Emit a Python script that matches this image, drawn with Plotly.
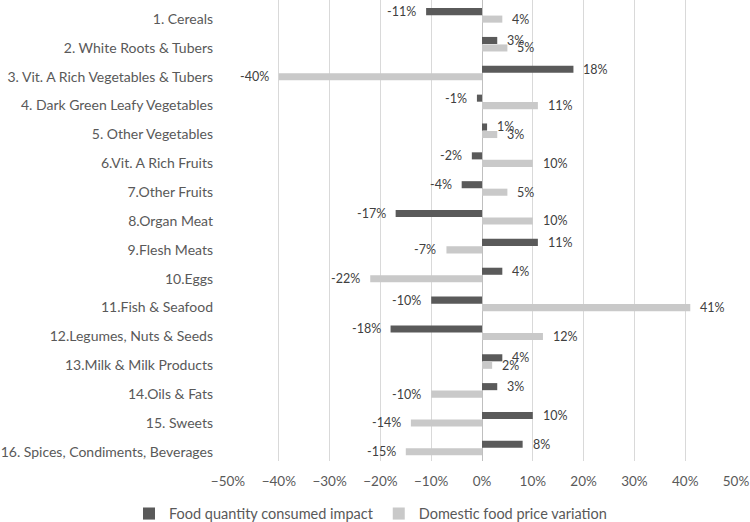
import plotly.graph_objects as go

categories = [
    "1. Cereals",
    "2. White Roots & Tubers",
    "3. Vit. A Rich Vegetables & Tubers",
    "4. Dark Green Leafy Vegetables",
    "5. Other Vegetables",
    "6.Vit. A Rich Fruits",
    "7.Other Fruits",
    "8.Organ Meat",
    "9.Flesh Meats",
    "10.Eggs",
    "11.Fish & Seafood",
    "12.Legumes, Nuts & Seeds",
    "13.Milk & Milk Products",
    "14.Oils & Fats",
    "15. Sweets",
    "16. Spices, Condiments, Beverages",
]
quantity_impact = [-0.11, 0.03, 0.18, -0.01, 0.01, -0.02, -0.04, -0.17, 0.11, 0.04,
                   -0.10, -0.18, 0.04, 0.03, 0.10, 0.08]
price_variation = [0.04, 0.05, -0.40, 0.11, 0.03, 0.10, 0.05, 0.10, -0.07, -0.22,
                   0.41, 0.12, 0.02, -0.10, -0.14, -0.15]
x_ticks = [-0.5, -0.4, -0.3, -0.2, -0.1, 0.0, 0.1, 0.2, 0.3, 0.4, 0.5]

series_names = ["Food quantity consumed impact", "Domestic food price variation"]
series_colors = ["#5a5a5a", "#c9c9c9"]
FONT = "Lato"

fig = go.Figure()
fig.add_trace(go.Bar(
    y=categories, x=quantity_impact, orientation="h", name=series_names[0],
    marker=dict(color=series_colors[0], line=dict(width=0)),
    offset=-0.38, width=0.245,
))
fig.add_trace(go.Bar(
    y=categories, x=price_variation, orientation="h", name=series_names[1],
    marker=dict(color=series_colors[1], line=dict(width=0)),
    offset=-0.12, width=0.245,
))

annotations = []
for vals, yshift in ((quantity_impact, 7.5), (price_variation, 0)):
    for cat, v in zip(categories, vals):
        annotations.append(dict(
            x=v, y=cat, xref="x", yref="y",
            text=f"{round(v * 100):d}%",
            showarrow=False,
            xanchor="left" if v >= 0 else "right",
            xshift=8 if v >= 0 else -8,
            yshift=yshift,
            font=dict(family=FONT, size=12.5, color="#404040"),
        ))

fig.update_layout(
    width=750, height=522,
    margin=dict(l=228, r=14, t=0, b=61, autoexpand=False),
    paper_bgcolor="white", plot_bgcolor="white",
    barmode="overlay",
    font=dict(family=FONT, size=13, color="#595959"),
    annotations=annotations,
    showlegend=True,
    legend=dict(
        orientation="h", xref="container", yref="container",
        x=0.494, xanchor="center", y=0.016, yanchor="middle",
        font=dict(family=FONT, size=14.5, color="#595959"),
        itemwidth=30,
        traceorder="normal",
    ),
    xaxis=dict(
        range=[-0.5, 0.5], tickvals=x_ticks, tickformat=".0%",
        showgrid=True, gridcolor="#d9d9d9", gridwidth=1,
        zeroline=True, zerolinecolor="#bfbfbf", zerolinewidth=1,
        showline=False, ticks="", ticklabelstandoff=10,
        tickfont=dict(family=FONT, size=13.5, color="#595959"),
    ),
    yaxis=dict(
        type="category", categoryorder="array", categoryarray=categories,
        range=[15.32, -0.66],
        showgrid=False, zeroline=False, showline=False, ticks="",
        ticklabelstandoff=14,
        tickfont=dict(family=FONT, size=14, color="#595959"),
    ),
    # category axis drawn at the 0% line, with tick marks between categories
    yaxis2=dict(
        type="category", categoryorder="array", categoryarray=categories,
        matches="y", overlaying="y", anchor="free", position=0.5, side="left",
        showgrid=False, zeroline=False,
        showline=True, linecolor="#bfbfbf", linewidth=1,
        ticks="outside", tickson="boundaries", ticklen=4, tickcolor="#bfbfbf",
        showticklabels=False,
    ),
)

fig.write_html(
    "out.html",
    config={"displayModeBar": False},
    post_script="document.body.style.margin='0';document.body.style.overflow='hidden';",
)
